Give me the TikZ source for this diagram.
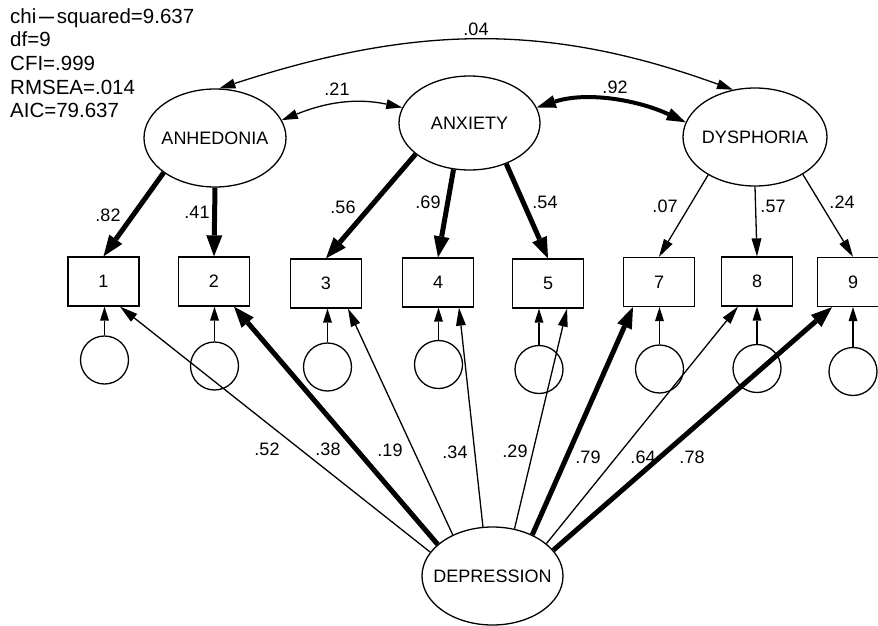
\documentclass[tikz,border=0pt]{standalone}
\usepackage{fontspec}
\setmainfont{Liberation Sans}
\usetikzlibrary{arrows.meta,shapes.geometric}

\begin{document}
\begin{tikzpicture}[x=1pt,y=1pt,
  txt/.style={font=\fontsize{18}{21}\selectfont, inner sep=0pt},
  stat/.style={font=\fontsize{20.5}{23.5}\selectfont, inner sep=0pt, anchor=base west},
  latent/.style={draw, ellipse, line width=1.3pt, inner sep=0pt, font=\fontsize{18}{21}\selectfont},
  obs/.style={draw, rectangle, line width=1.3pt, inner sep=0pt, minimum width=71pt, minimum height=49pt, font=\fontsize{18}{21}\selectfont},
  errc/.style={draw, circle, line width=1.3pt, inner sep=0pt, minimum size=48pt},
  thinpath/.style={line width=1.3pt, -{Triangle[length=18pt,width=10pt,line width=0pt]}},
  thickpath/.style={line width=5pt, -{Triangle[length=21pt,width=16pt,line width=0pt]}},
  errpath/.style={line width=1.3pt, -{Triangle[length=14pt,width=9pt,line width=0pt]}},
  thinboth/.style={line width=1.3pt, {Triangle[length=16pt,width=10pt,line width=0pt]}-{Triangle[length=16pt,width=10pt,line width=0pt]}},
  thickboth/.style={line width=4pt, {Triangle[length=19pt,width=13pt,line width=0pt]}-{Triangle[length=19pt,width=13pt,line width=0pt]}}
]
\useasboundingbox (0,0) rectangle (878,-626);

% fit statistics
\foreach \t [count=\i] in {chi\scalebox{3}[1]{-}squared=9.637, df=9, CFI=.999, RMSEA=.014, AIC=79.637}
  \node[stat] (stat\i) at (10,{-23.5*\i}) {\t};

% latent variables
\node[latent, minimum width=142pt, minimum height=98pt] (anh) at (215,-138) {\makebox[0pt]{ANHEDONIA}};
\node[latent, minimum width=141pt, minimum height=94pt] (anx) at (469.5,-123) {\makebox[0pt]{ANXIETY}};
\node[latent, minimum width=144pt, minimum height=98pt] (dys) at (755,-137) {\makebox[0pt]{DYSPHORIA}};
\node[latent, minimum width=141pt, minimum height=98pt] (dep) at (492.5,-576) {\makebox[0pt]{DEPRESSION}};

% observed items
\node[obs] (b1) at (103.5,-281.5) {1};
\node[obs] (b2) at (214,-281.5) {2};
\node[obs] (b3) at (326,-283.5) {3};
\node[obs] (b4) at (438,-282.5) {4};
\node[obs] (b5) at (548,-283.5) {5};
\node[obs] (b7) at (659,-282) {7};
\node[obs] (b8) at (757,-281.5) {8};
\node[obs] (b9) at (853,-282) {9};

% error terms
\node[errc] (e1) at (104.5,-360) {};
\node[errc] (e2) at (214.5,-366) {};
\node[errc] (e3) at (327.5,-367) {};
\node[errc] (e4) at (438.5,-364.5) {};
\node[errc] (e5) at (539,-369.5) {};
\node[errc] (e7) at (659.5,-369) {};
\node[errc] (e8) at (757,-368.5) {};
\node[errc] (e9) at (853,-371.5) {};

\foreach \k in {1,2,3,4,5,7,8,9}
  \draw[errpath] (e\k.north) -- (e\k.north |- b\k.south);

% specific factor loadings
\draw[thickpath] (anh.214) -- (b1.north);
\draw[thickpath] (anh.south) -- (b2.north);
\draw[thickpath] (anx.210) -- (b3.north);
\draw[thickpath] (anx.251) -- (b4.north);
\draw[thickpath] (anx.312.5) -- (b5.north);
\draw[thinpath] (dys.219) -- (b7.north);
\draw[thinpath] (dys.south) -- (b8.north);
\draw[thinpath] (dys.322.5) -- (b9.north);

% general factor loadings
\draw[thinpath] (dep.159) -- ([xshift=16.5pt]b1.south);
\draw[thickpath] (dep.150) -- ([xshift=20pt]b2.south);
\draw[thinpath] (dep.134) -- ([xshift=22pt]b3.south);
\draw[thinpath] (dep.101) -- ([xshift=21pt]b4.south);
\draw[thinpath] (dep.65) -- ([xshift=19pt]b5.south);
\draw[thickpath] (dep.46) -- ([xshift=-26pt]b7.south);
\draw[thinpath] (dep.31) -- ([xshift=-19pt]b8.south);
\draw[thickpath] (dep.23) -- ([xshift=-21pt]b9.south);

% covariances
\draw[thinboth] (anh.15) to[out=22,in=168] (anx.167);
\draw[thickboth] (anx.13) to[out=18,in=155,looseness=0.9] (dys.168);
\draw[thinboth] (anh.85) to[out=18,in=160] (dys.115);

% coefficients
\node[txt] (c04) at (476,-29) {.04};
\node[txt] (c21) at (337,-89) {.21};
\node[txt] (c92) at (615,-87) {.92};
\node[txt] (c82) at (108,-215) {.82};
\node[txt] (c41) at (197,-212) {.41};
\node[txt] (c56) at (343,-207) {.56};
\node[txt] (c69) at (428,-202) {.69};
\node[txt] (c54) at (545,-202) {.54};
\node[txt] (c07) at (665,-206) {.07};
\node[txt] (c57) at (773,-206) {.57};
\node[txt] (c24) at (842,-202) {.24};
\node[txt] (c52) at (267,-449) {.52};
\node[txt] (c38) at (328,-449) {.38};
\node[txt] (c19) at (390,-450) {.19};
\node[txt] (c34) at (455,-452) {.34};
\node[txt] (c29) at (515,-451) {.29};
\node[txt] (c79) at (588,-457) {.79};
\node[txt] (c64) at (643,-457) {.64};
\node[txt] (c78) at (692,-457) {.78};
\end{tikzpicture}
\end{document}
